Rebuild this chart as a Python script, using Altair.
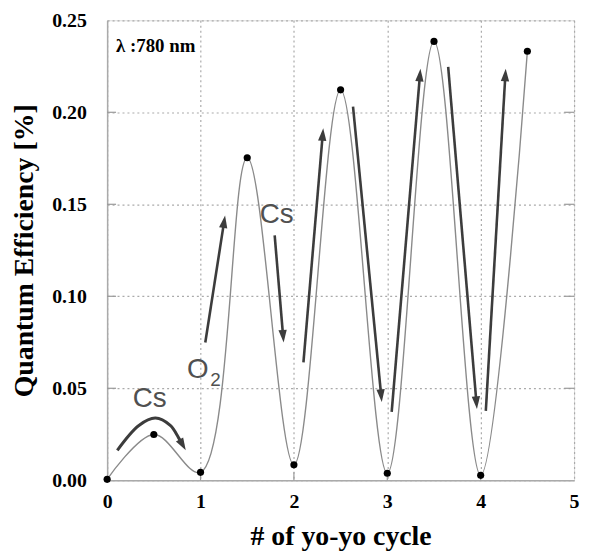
import math
import altair as alt
import pandas as pd

# ---- data ----
cycle = [0, 0.5, 1, 1.5, 2, 2.5, 3, 3.5, 4, 4.5]
qe = [0.0005, 0.0249, 0.0043, 0.1753, 0.0084, 0.2122, 0.0038, 0.2385, 0.0027, 0.2332]

x_ticks = [0, 1, 2, 3, 4, 5]
y_ticks = [0.0, 0.05, 0.10, 0.15, 0.20, 0.25]
x_grid = [1, 2, 3, 4]
y_grid = [0.05, 0.10, 0.15, 0.20]

# straight arrows: tail (x0, y0) -> tip (x1, y1)
arrow_x0 = [1.051, 1.794, 2.102, 2.633, 3.047, 3.652, 4.055]
arrow_y0 = [0.0749, 0.1331, 0.0641, 0.2031, 0.0372, 0.2247, 0.0377]
arrow_x1 = [1.263, 1.890, 2.314, 2.941, 3.355, 3.960, 4.268]
arrow_y1 = [0.1439, 0.0749, 0.1913, 0.0426, 0.2236, 0.0388, 0.2236]

# curved Cs arrow (path points, then tip)
curve_arrow_x = [0.109, 0.340, 0.517, 0.676, 0.764]
curve_arrow_y = [0.0163, 0.0298, 0.0338, 0.0298, 0.0232]
curve_tip_x = 0.842
curve_tip_y = 0.0163

label_text = ["Cs", "Cs", "O"]
label_x = [0.456, 1.815, 0.855]
label_y = [0.0399, 0.1401, 0.0555]
sub_text = ["2"]
sub_x = [1.104]
sub_y = [0.0512]
lambda_text = ["λ :780 nm"]
lambda_x = [0.0955]
lambda_y = [0.2328]

# ---- layout ----
W, H = 471, 464
XMAX, YMAX = 5, 0.25
PX = W / XMAX
PY = H / YMAX
HEAD = 7.0  # px from head centre to tip
ARROW_COLOR = "#3c3c3c"
SERIF = "Liberation Serif"
SANS = "Liberation Sans"


def head(x0, y0, x1, y1):
    dxp = (x1 - x0) * PX
    dyp = -(y1 - y0) * PY
    L = math.hypot(dxp, dyp)
    ux, uy = dxp / L, dyp / L
    cx = x1 - HEAD * ux / PX
    cy = y1 + HEAD * uy / PY
    ang = math.degrees(math.atan2(ux, -uy)) % 360
    return cx, cy, ang


rows_line = []
rows_head = []
for a, b, c, d in zip(arrow_x0, arrow_y0, arrow_x1, arrow_y1):
    cx, cy, ang = head(a, b, c, d)
    rows_line.append({"x": a, "y": b, "x2": cx, "y2": cy})
    rows_head.append({"x": cx, "y": cy, "angle": ang})

cx, cy, ang = head(curve_arrow_x[-1], curve_arrow_y[-1], curve_tip_x, curve_tip_y)
rows_head.append({"x": cx, "y": cy, "angle": ang})
curve_df = pd.DataFrame({
    "x": curve_arrow_x + [cx],
    "y": curve_arrow_y + [cy],
    "o": list(range(len(curve_arrow_x) + 1)),
})

df = pd.DataFrame({"cycle": cycle, "qe": qe})
lines_df = pd.DataFrame(rows_line)
heads_df = pd.DataFrame(rows_head)
labels_df = pd.DataFrame({"t": label_text, "x": label_x, "y": label_y})
sub_df = pd.DataFrame({"t": sub_text, "x": sub_x, "y": sub_y})
lam_df = pd.DataFrame({"t": lambda_text, "x": lambda_x, "y": lambda_y})
ygrid_df = pd.DataFrame({"v": y_grid})
xgrid_df = pd.DataFrame({"v": x_grid})

xs = alt.Scale(domain=[0, XMAX], nice=False, zero=False)
ys = alt.Scale(domain=[0, YMAX], nice=False, zero=False)

x_axis = alt.Axis(
    values=x_ticks, format="d", title="# of yo-yo cycle",
    labelFont=SERIF, labelFontWeight="bold", labelFontSize=20, labelColor="black",
    labelPadding=11, ticks=False, tickSize=0, labelFlush=False,
    domainColor="#aaaaaa", domainWidth=1.5,
    grid=True, gridColor="#aaaaaa", gridDash=[2, 3], gridWidth=1.2,
    titleFont=SERIF, titleFontWeight="bold", titleFontSize=28, titleColor="black",
    titleY=65, titleBaseline="alphabetic",
)
y_axis = alt.Axis(
    values=y_ticks, format=".2f", title="Quantum Efficiency [%]",
    labelFont=SERIF, labelFontWeight="bold", labelFontSize=20, labelColor="black",
    labelPadding=21, ticks=False, tickSize=0, labelFlush=False,
    domainColor="#aaaaaa", domainWidth=1.5,
    grid=True, gridColor="#aaaaaa", gridDash=[2, 3], gridWidth=1.2,
    titleFont=SERIF, titleFontWeight="bold", titleFontSize=28, titleColor="black",
    titleAngle=270, titleX=-75, titleY=H / 2, titleAlign="center",
    titleBaseline="alphabetic",
)

base = alt.Chart(df)

curve = base.mark_line(color="#8a8a8a", strokeWidth=1.4, interpolate="catmull-rom").encode(
    x=alt.X("cycle:Q", scale=xs, axis=x_axis),
    y=alt.Y("qe:Q", scale=ys, axis=y_axis),
)
dots = base.mark_point(filled=True, color="black", size=52, opacity=1).encode(
    x=alt.X("cycle:Q", scale=xs), y=alt.Y("qe:Q", scale=ys)
)

# inward ticks along the frame
lt = alt.Chart(ygrid_df).mark_rule(color="#999999", strokeWidth=1.2).encode(
    y=alt.Y("v:Q", scale=ys), x=alt.value(0), x2=alt.value(9)
)
rt = alt.Chart(ygrid_df).mark_rule(color="#999999", strokeWidth=1.2).encode(
    y=alt.Y("v:Q", scale=ys), x=alt.value(W - 10), x2=alt.value(W)
)
bt = alt.Chart(xgrid_df).mark_rule(color="#999999", strokeWidth=1.2).encode(
    x=alt.X("v:Q", scale=xs), y=alt.value(H - 8), y2=alt.value(H)
)

arrows = alt.Chart(lines_df).mark_rule(color=ARROW_COLOR, strokeWidth=2.6).encode(
    x=alt.X("x:Q", scale=xs), y=alt.Y("y:Q", scale=ys), x2="x2:Q", y2="y2:Q"
)
carrow = alt.Chart(curve_df).mark_line(
    color=ARROW_COLOR, strokeWidth=3, interpolate="catmull-rom"
).encode(x=alt.X("x:Q", scale=xs), y=alt.Y("y:Q", scale=ys), order="o:Q")
heads = alt.Chart(heads_df).mark_point(
    shape="M0,-1L0.6,0.8L-0.6,0.8Z", filled=True, color=ARROW_COLOR, size=196, opacity=1
).encode(
    x=alt.X("x:Q", scale=xs), y=alt.Y("y:Q", scale=ys),
    angle=alt.Angle("angle:Q", scale=None),
)

labels = alt.Chart(labels_df).mark_text(
    font=SANS, fontSize=28, color="#505050", align="center", baseline="alphabetic"
).encode(x=alt.X("x:Q", scale=xs), y=alt.Y("y:Q", scale=ys), text="t:N")
labels_o = labels.transform_filter(alt.datum.t == "O").mark_text(
    font=SANS, fontSize=28, color="#505050", align="left", baseline="alphabetic"
)
labels_cs = labels.transform_filter(alt.datum.t != "O")
subs = alt.Chart(sub_df).mark_text(
    font=SANS, fontSize=19, color="#505050", align="left", baseline="alphabetic"
).encode(x=alt.X("x:Q", scale=xs), y=alt.Y("y:Q", scale=ys), text="t:N")
lam = alt.Chart(lam_df).mark_text(
    font=SERIF, fontSize=19, fontWeight="bold", color="black", align="left",
    baseline="alphabetic"
).encode(x=alt.X("x:Q", scale=xs), y=alt.Y("y:Q", scale=ys), text="t:N")

chart = alt.layer(
    curve, lt, rt, bt, arrows, carrow, heads, dots, labels_cs, labels_o, subs, lam
).properties(
    width=W, height=H,
    autosize=alt.AutoSizeParams(type="none"),
    padding={"left": 100, "top": 10, "right": 8, "bottom": 76},
).configure_view(stroke="#aaaaaa", strokeWidth=1.5).configure(background="white")

chart.save("out.html", embed_options={"renderer": "svg", "actions": False})
